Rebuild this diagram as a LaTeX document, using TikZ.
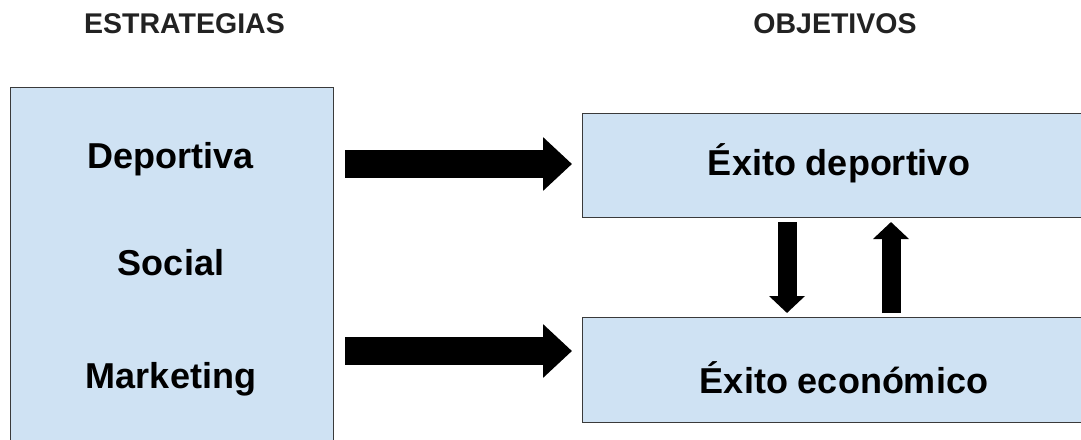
\documentclass[tikz,border=0pt]{standalone}
\usepackage{fontspec}
\setmainfont{Liberation Sans}
\usetikzlibrary{arrows.meta}
\definecolor{boxfill}{HTML}{CFE2F3}
\definecolor{boxline}{HTML}{3A3A3A}
\definecolor{headtext}{HTML}{222222}
\tikzset{
  panel/.style={draw=boxline, line width=1.3pt, fill=boxfill, rectangle,
    inner sep=0pt, anchor=north west},
  label/.style={inner sep=0pt, anchor=base, font=\bfseries\fontsize{36}{40}\selectfont},
  heading/.style={inner sep=0pt, anchor=base, text=headtext,
    font=\bfseries\fontsize{28.5}{32}\selectfont},
  bigarrow/.style={line width=28pt, -{Triangle[length=29pt,width=52pt]}},
  smallarrow/.style={line width=19pt, -{Triangle[length=17pt,width=35pt]}}
}
\begin{document}
\begin{tikzpicture}[x=1pt,y=-1pt]
\useasboundingbox (0,0) rectangle (1081,439);
\clip (0,0) rectangle (1081,439);

% column headings
\node[heading] (hstrat) at (184.5,33) {ESTRATEGIAS};
\node[heading] (hobj) at (835,33) {OBJETIVOS};

% strategies panel
\node[panel, minimum width=323pt, minimum height=373pt] (strat) at (10,87) {};
\node[label] (dep) at (171,168) {Deportiva};
\node[label] (soc) at (171,275) {Social};
\node[label] (mkt) at (171,388) {Marketing};

% objectives panels
\node[panel, minimum width=518pt, minimum height=104pt] (sport) at (582,113) {};
\node[label] (tsport) at (839,175) {Éxito deportivo};
\node[panel, minimum width=518pt, minimum height=105pt] (econ) at (582,317) {};
\node[label] (tecon) at (844,393) {Éxito económico};

% arrow end points
\coordinate (a1s) at (345,164);
\coordinate (a1e) at (572,164);
\coordinate (a2s) at (345,351);
\coordinate (a2e) at (572,351);
\coordinate (dns) at (787,222);
\coordinate (dne) at (787,313);
\coordinate (ups) at (891,313);
\coordinate (upe) at (891,222);

% strategy -> objective arrows
\draw[bigarrow] (a1s) -- (a1e);
\draw[bigarrow] (a2s) -- (a2e);

% mutual influence between objectives
\draw[smallarrow] (dns) -- (dne);
\draw[smallarrow] (ups) -- (upe);
\end{tikzpicture}
\end{document}
